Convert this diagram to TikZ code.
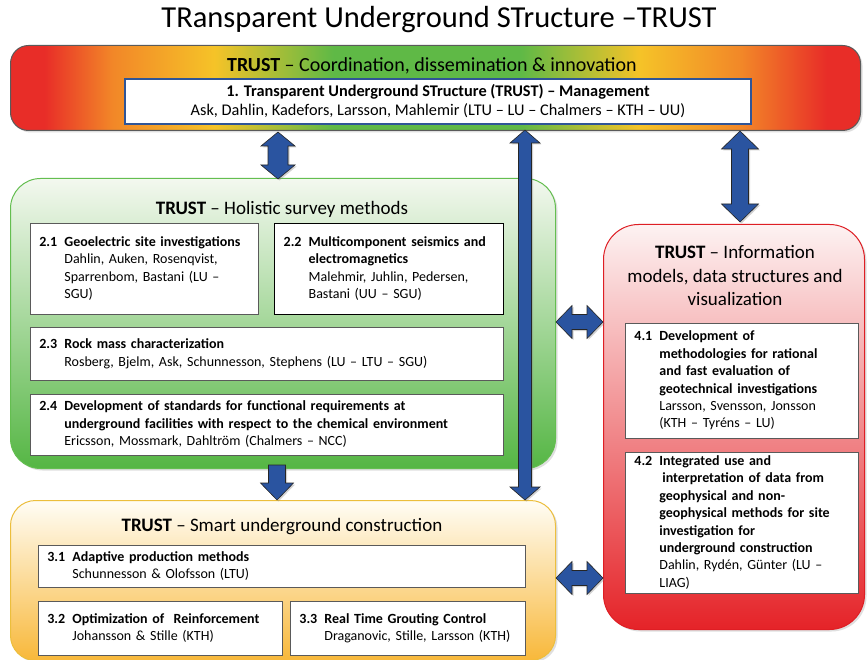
\documentclass[tikz,border=0pt]{standalone}
\usepackage{fontspec}
\setmainfont{Carlito}
\usetikzlibrary{shadows}
\definecolor{ablue}{RGB}{42,84,160}
\definecolor{tred}{RGB}{232,45,40}
\definecolor{torange}{RGB}{242,135,40}
\definecolor{tyellow}{RGB}{245,195,40}
\definecolor{tgreen}{RGB}{95,185,70}
\definecolor{boxgray}{RGB}{90,90,90}
\definecolor{gborder}{RGB}{100,190,80}
\definecolor{gtop}{RGB}{243,248,239}
\definecolor{gmid}{RGB}{190,224,176}
\definecolor{gbot}{RGB}{85,182,68}
\definecolor{ytop}{RGB}{255,253,245}
\definecolor{ymid}{RGB}{253,232,190}
\definecolor{ybot}{RGB}{248,184,58}
\definecolor{yborder}{RGB}{236,190,60}
\definecolor{rtop}{RGB}{253,242,242}
\definecolor{rmid}{RGB}{246,180,180}
\definecolor{rbot}{RGB}{229,35,40}
\definecolor{rborder}{RGB}{222,30,36}
\definecolor{mblue}{RGB}{47,85,151}
\pgfdeclarehorizontalshading{topgrad}{100bp}{color(0bp)=(tred); color(27bp)=(tred); color(31bp)=(torange); color(37bp)=(tyellow); color(44bp)=(tgreen); color(55bp)=(tgreen); color(62bp)=(tyellow); color(68bp)=(torange); color(73bp)=(tred); color(100bp)=(tred)}
\newcommand\itm[2]{\begin{tabular}{@{}p{25pt}@{}l@{}}\textbf{#1}&#2\end{tabular}}
\newcommand\vdarrow[6]{%
 \path[blockarrow] (#1,#2) -- (#1+#5,#2+#6) -- (#1+#4,#2+#6) -- (#1+#4,#3-#6) -- (#1+#5,#3-#6) -- (#1,#3) -- (#1-#5,#3-#6) -- (#1-#4,#3-#6) -- (#1-#4,#2+#6) -- (#1-#5,#2+#6) -- cycle;}
\newcommand\hdarrow[6]{%
 \path[blockarrow] (#2,#1) -- (#2+#6,#1-#5) -- (#2+#6,#1-#4) -- (#3-#6,#1-#4) -- (#3-#6,#1-#5) -- (#3,#1) -- (#3-#6,#1+#5) -- (#3-#6,#1+#4) -- (#2+#6,#1+#4) -- (#2+#6,#1+#5) -- cycle;}
\begin{document}
\begin{tikzpicture}[x=1pt,y=-1pt,
 bigbox/.style={anchor=north west, inner sep=0pt, line width=1pt, rounded corners=#1,
   drop shadow={shadow xshift=2pt,shadow yshift=-2pt,opacity=0.25}},
 ibox/.style={draw=boxgray, line width=0.8pt, fill=white, anchor=north west,
   inner xsep=9pt, inner ysep=0pt, align=left, font=\fontsize{14}{17.4}\selectfont},
 hdr/.style={font=\fontsize{19}{23.5}\selectfont, align=center, inner sep=0pt},
 blockarrow/.style={fill=ablue, draw=black!85, line width=0.6pt, line join=miter,
   drop shadow={shadow xshift=1.5pt,shadow yshift=-1.5pt,opacity=0.35}}]
\useasboundingbox (0,0) rectangle (867,660);
\fill[white] (0,0) rectangle (867,660);

\node[font=\fontsize{30.5}{36}\selectfont, inner sep=0pt] (title) at (439,20) {TRansparent Underground STructure –TRUST};

% top box
\node[bigbox=18, shading=topgrad, draw=boxgray, minimum width=850, minimum height=85] (top) at (10,45) {};
\node[hdr, font=\fontsize{20}{24}\selectfont] (toptitle) at (432,66) {\textbf{TRUST} – Coordination, dissemination \& innovation};
\node[draw=mblue, line width=2pt, fill=white, anchor=north west, minimum width=626, minimum height=45,
  inner sep=0pt, align=center, font=\fontsize{16.3}{19}\selectfont] (mgmt) at (124,78)
  {\textbf{1. Transparent Underground STructure (TRUST) – Management}\\Ask, Dahlin, Kadefors, Larsson, Mahlemir (LTU – LU – Chalmers – KTH – UU)};

% green box
\node[bigbox=30, draw=gborder, top color=gtop, middle color=gmid, bottom color=gbot, minimum width=545, minimum height=290] (green) at (10,178) {};
\node[hdr] (gtitle) at (282,209) {\textbf{TRUST} – Holistic survey methods};
\node[ibox, text width=210, minimum height=91] (b21) at (30,223)
 {\itm{2.1}{\textbf{Geoelectric site investigations}\\&Dahlin, Auken, Rosenqvist,\\&Sparrenbom, Bastani (LU –\\&SGU)}};
\node[ibox, draw=black, line width=1.3pt, text width=211, minimum height=91] (b22) at (274,223)
 {\itm{2.2}{\textbf{Multicomponent seismics and}\\&\textbf{electromagnetics}\\&Malehmir, Juhlin, Pedersen,\\&Bastani (UU – SGU)}};
\node[ibox, text width=455, minimum height=53] (b23) at (30,327)
 {\itm{2.3}{\textbf{Rock mass characterization}\\&Rosberg, Bjelm, Ask, Schunnesson, Stephens (LU – LTU – SGU)}};
\node[ibox, text width=455, minimum height=61] (b24) at (30,394)
 {\itm{2.4}{\textbf{Development of standards for functional requirements at}\\&\textbf{underground facilities with respect to the chemical environment}\\&Ericsson, Mossmark, Dahltröm (Chalmers – NCC)}};

% yellow box
\node[bigbox=25, draw=yborder, top color=ytop, middle color=ymid, bottom color=ybot, minimum width=545, minimum height=160] (yellow) at (10,500) {};
\node[hdr] (ytitle) at (282,527) {\textbf{TRUST} – Smart underground construction};
\node[ibox, text width=469, minimum height=42] (b31) at (38,545)
 {\itm{3.1}{\textbf{Adaptive production methods}\\&Schunnesson \& Olofsson (LTU)}};
\node[ibox, text width=226, minimum height=54] (b32) at (38,601)
 {\itm{3.2}{\textbf{Optimization of\ \ Reinforcement}\\&Johansson \& Stille (KTH)}};
\node[ibox, text width=217, minimum height=54] (b33) at (290,601)
 {\itm{3.3}{\textbf{Real Time Grouting Control}\\&Draganovic, Stille, Larsson (KTH)}};

% red box
\node[bigbox=35, draw=rborder, top color=rtop, middle color=rmid, bottom color=rbot, minimum width=261, minimum height=405] (red) at (603,224) {};
\node[hdr] (rtitle) at (735,276) {\textbf{TRUST} – Information\\models, data structures and\\visualization};
\node[ibox, text width=215, minimum height=115] (b41) at (625,323)
 {\itm{4.1}{\textbf{Development of}\\&\textbf{methodologies for rational}\\&\textbf{and fast evaluation of}\\&\textbf{geotechnical investigations}\\&Larsson, Svensson, Jonsson\\&(KTH – Tyréns – LU)}};
\node[ibox, text width=215, minimum height=141] (b42) at (625,452)
 {\itm{4.2}{\textbf{Integrated use and}\\&\hspace{3pt}\textbf{interpretation of data from}\\&\textbf{geophysical and non-}\\&\textbf{geophysical methods for site}\\&\textbf{investigation for}\\&\textbf{underground construction}\\&Dahlin, Rydén, Günter (LU –\\&LIAG)}};

% block arrows
\vdarrow{278}{132}{179}{10}{17}{14}
\vdarrow{525}{130}{500}{6.5}{15}{13}
\vdarrow{740}{131}{222}{8.5}{18.5}{18}
\path[blockarrow] (277-8.5,465) -- (277+8.5,465) -- (277+8.5,483) -- (277+16.5,483) -- (277,500) -- (277-16.5,483) -- (277-8.5,483) -- cycle;
\hdarrow{322}{556}{603}{7.5}{16.5}{16}
\hdarrow{578}{556}{603}{7.5}{16.5}{16}
\end{tikzpicture}
\end{document}
